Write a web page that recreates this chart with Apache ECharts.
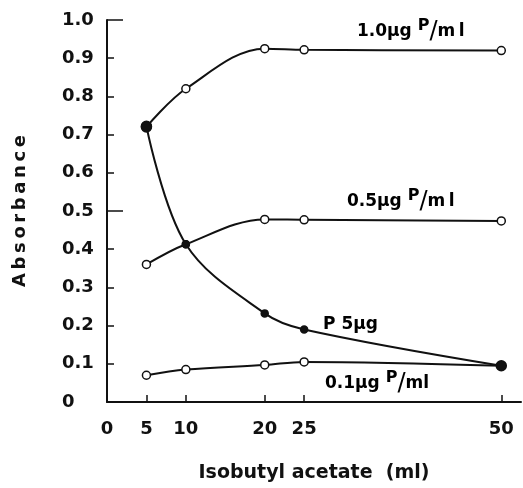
<!DOCTYPE html>
<html>
<head>
<meta charset="UTF-8">
<title>Absorbance vs isobutyl acetate</title>
<script src="https://cdn.jsdelivr.net/npm/echarts/dist/echarts.min.js"></script>
<style>
  html, body { margin: 0; padding: 0; background: #fff; }
  #chart { width: 523px; height: 488px; }
</style>
</head>
<body>
<div id="chart"></div>
<script>
// volumes of isobutyl acetate (ml)
const volumes = [5, 10, 20, 25, 50];
const xTicks = [0, 5, 10, 20, 25, 50];

// absorbance readings
const p10 = [0.72, 0.82, 0.925, 0.922, 0.92];    // 1.0 µg P/ml
const p05 = [0.36, 0.413, 0.478, 0.477, 0.474];  // 0.5 µg P/ml
const p5ug = [0.722, 0.413, 0.232, 0.19, 0.095]; // P 5 µg
const p01 = [0.07, 0.085, 0.097, 0.105, 0.095];  // 0.1 µg P/ml

const ink = '#111';
const font = 'DejaVu Sans';

function pairs(vals) {
  return volumes.map((v, i) => [v, vals[i]]);
}

// filled: 0 open circle, 1 small dot, 2 big dot
function curve(name, vals, filled) {
  return {
    name: name,
    type: 'line',
    smooth: 0.35,
    data: pairs(vals).map((p, i) => {
      const f = filled[i];
      return {
        value: p,
        symbolSize: f === 2 ? 10 : (f === 1 ? 7 : 8),
        itemStyle: { color: f ? ink : '#fff', borderColor: ink, borderWidth: 1.5 }
      };
    }),
    symbol: 'circle',
    lineStyle: { color: ink, width: 2 },
    z: 3
  };
}

const chart = echarts.init(document.getElementById('chart'));

const labelRich = {
  n: { fontFamily: font, fontSize: 17, fontWeight: 'bold', color: ink },
  s: { fontFamily: font, fontSize: 16, fontWeight: 'bold', color: ink, padding: [0, 0, 12, 0] },
  sl: { fontFamily: font, fontSize: 24, color: ink }
};

function tag(left, top, text) {
  return { type: 'text', left: left, top: top, style: { text: text, rich: labelRich } };
}

chart.setOption({
  animation: false,
  grid: { left: 107, right: 2, top: 20, bottom: 83 },
  xAxis: {
    type: 'value',
    min: 0,
    max: 52.5,
    name: 'Isobutyl acetate  (ml)',
    nameLocation: 'middle',
    nameGap: 62,
    nameTextStyle: { fontFamily: font, fontSize: 19, fontWeight: 'bold', color: ink },
    axisLine: { lineStyle: { color: ink, width: 2 } },
    axisTick: { inside: true, length: 7, customValues: xTicks, lineStyle: { color: ink, width: 1.5 } },
    axisLabel: { customValues: xTicks, margin: 18, fontFamily: font, fontSize: 18, fontWeight: 'bold', color: ink },
    splitLine: { show: false }
  },
  yAxis: [{
    type: 'value',
    min: 0,
    max: 1,
    interval: 0.1,
    name: 'A\u2009b\u2009s\u2009o\u2009r\u2009b\u2009a\u2009n\u2009c\u2009e',
    nameLocation: 'middle',
    nameGap: 78,
    nameTextStyle: { fontFamily: font, fontSize: 18, fontWeight: 'bold', color: ink },
    axisLine: { lineStyle: { color: ink, width: 2 } },
    axisTick: { inside: true, length: 7, lineStyle: { color: ink, width: 1.5 } },
    axisLabel: {
      margin: 45, align: 'left', fontFamily: font, fontSize: 18, fontWeight: 'bold', color: ink,
      formatter: v => v === 0 ? '0' : v.toFixed(1)
    },
    splitLine: { show: false }
  }, {
    type: 'value',
    position: 'left',
    min: 0,
    max: 1,
    interval: 0.5,
    axisLine: { show: false },
    axisTick: { inside: true, length: 16, lineStyle: { color: ink, width: 1.5 } },
    axisLabel: { show: false },
    splitLine: { show: false }
  }],
  series: [
    curve('0.1µg P/ml', p01, [0, 0, 0, 0, 0]),
    curve('0.5µg P/ml', p05, [0, 1, 0, 0, 0]),
    curve('1.0µg P/ml', p10, [2, 0, 0, 0, 0]),
    curve('P 5µg', p5ug, [2, 1, 1, 1, 2])
  ],
  graphic: [
    tag(357, 18, '{n|1.0µg }{s|P}{sl|/}{n|m\u2009l}'),
    tag(347, 188, '{n|0.5µg }{s|P}{sl|/}{n|m\u2009l}'),
    tag(323, 316, '{n|P 5µg}'),
    tag(325, 370, '{n|0.1µg }{s|P}{sl|/}{n|ml}')
  ]
});
</script>
</body>
</html>
